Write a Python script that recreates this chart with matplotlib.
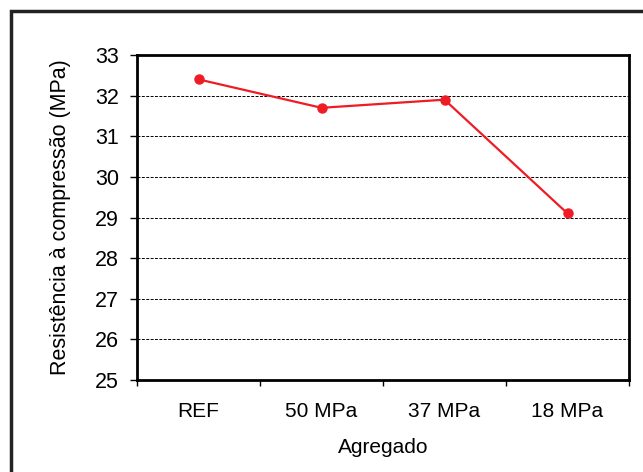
import matplotlib.pyplot as plt
from matplotlib.patches import Rectangle

categories = ['REF', '50 MPa', '37 MPa', '18 MPa']
resistencia = [32.4, 31.7, 31.9, 29.1]
y_ticks = [25, 26, 27, 28, 29, 30, 31, 32, 33]

plt.rcParams['font.family'] = ['Liberation Sans', 'DejaVu Sans']

fig = plt.figure(figsize=(6.43, 4.72), dpi=100)
ax = fig.add_axes([137 / 643, 1 - 380 / 472, 492 / 643, 325 / 472])

# outer frame (cut off at right and bottom like the reference)
fig.patches.append(Rectangle((11 / 643, -0.1), 1.2, 1 - 11 / 472 + 0.1,
                             transform=fig.transFigure, fill=False,
                             edgecolor='#222222', linewidth=2.5))

x = list(range(len(categories)))
ax.plot(x, resistencia, color='#ee1c25', linewidth=1.6,
        marker='o', markersize=6.5, zorder=3)

ax.set_xlim(-0.5, len(categories) - 0.5)
ax.set_ylim(25, 33)
ax.set_yticks(y_ticks)
ax.set_xticks(x)
ax.set_xticklabels(categories)
ax.set_xticks([i + 0.5 for i in range(-1, len(categories))], minor=True)
ax.tick_params(axis='x', which='major', length=0, pad=16, labelsize=15)
ax.tick_params(axis='x', which='minor', length=4, width=1, direction='out')
ax.tick_params(axis='y', length=5, width=1, direction='out', labelsize=15.5, pad=8)

for yv in y_ticks[1:-1]:
    ax.axhline(yv, color='black', linestyle=(0, (3, 1.5)), linewidth=0.7, zorder=1)

for s in ax.spines.values():
    s.set_linewidth(2)

ax.set_xlabel('Agregado', fontsize=15, labelpad=12)
ax.set_ylabel('Resistência à compressão (MPa)', fontsize=15.5, labelpad=17)

fig.savefig('out.png', dpi=100)
